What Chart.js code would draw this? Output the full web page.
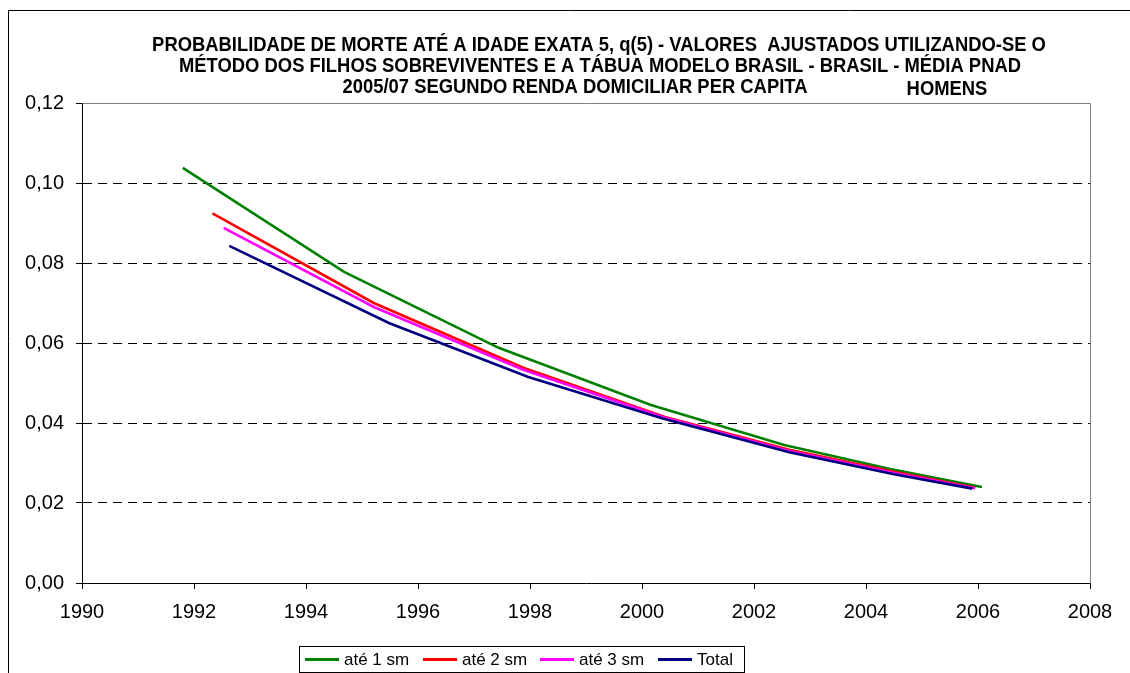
<!DOCTYPE html>
<html>
<head>
<meta charset="utf-8">
<script src="https://cdn.jsdelivr.net/npm/chart.js@4.4.1/dist/chart.umd.min.js"></script>
<style>
html, body { margin: 0; padding: 0; background: #fff; }
#wrap { width: 1130px; height: 673px; }
</style>
</head>
<body>
<div id="wrap"><canvas id="qChart"></canvas></div>
<script>
// title text
var titleLines = [
    "PROBABILIDADE DE MORTE ATÉ A IDADE EXATA 5, q(5) - VALORES  AJUSTADOS UTILIZANDO-SE O",
    "MÉTODO DOS FILHOS SOBREVIVENTES E A TÁBUA MODELO BRASIL - BRASIL - MÉDIA PNAD",
    "2005/07 SEGUNDO RENDA DOMICILIAR PER CAPITA"
];
var subTitle = "HOMENS";

// series names
var seriesNames = ["até 1 sm", "até 2 sm", "até 3 sm", "Total"];

// reference years and q(5) per series
var years1 = [1991.80, 1994.68, 1997.44, 2000.16, 2002.54, 2004.43, 2006.07];
var q1     = [0.1038, 0.0778, 0.0588, 0.0445, 0.0345, 0.0285, 0.0240];

var years2 = [1992.33, 1995.21, 1997.88, 2000.41, 2002.63, 2004.50, 2005.95];
var q2     = [0.0924, 0.0700, 0.0538, 0.0415, 0.0333, 0.0278, 0.0238];

var years3 = [1992.53, 1995.21, 1997.88, 2000.41, 2002.63, 2004.50, 2005.95];
var q3     = [0.0888, 0.0690, 0.0533, 0.0413, 0.0330, 0.0275, 0.0237];

var years4 = [1992.63, 1995.48, 1997.97, 2000.37, 2002.63, 2004.50, 2005.90];
var q4     = [0.0843, 0.0650, 0.0515, 0.0411, 0.0327, 0.0272, 0.0236];

// tick labels
var xTickLabels = ["1990", "1992", "1994", "1996", "1998", "2000", "2002", "2004", "2006", "2008"];
var yTickLabels = ["0,00", "0,02", "0,04", "0,06", "0,08", "0,10", "0,12"];

var colors = ["#008000", "#FF0000", "#FF00FF", "#000080"];

function toPoints(xs, ys) {
    var pts = [];
    for (var i = 0; i < xs.length; i++) pts.push({ x: xs[i], y: ys[i] });
    return pts;
}

var allYears = [years1, years2, years3, years4];
var allQ = [q1, q2, q3, q4];

var datasets = [];
for (var i = 0; i < seriesNames.length; i++) {
    datasets.push({
        label: seriesNames[i],
        data: toPoints(allYears[i], allQ[i]),
        borderColor: colors[i],
        backgroundColor: colors[i],
        borderWidth: 2.6,
        pointRadius: 0,
        tension: 0,
        order: seriesNames.length - 1 - i
    });
}

var FONT = "'Liberation Sans', Arial, sans-serif";

// title text in a slightly condensed bold face
function condensedText(ctx, text, cx, cy) {
    ctx.save();
    ctx.translate(cx, cy);
    ctx.scale(0.92, 1);
    ctx.fillText(text, 0, 0);
    ctx.restore();
}

// draws the outer frame, plot border, title and the boxed legend
var decorPlugin = {
    id: "decor",
    beforeDatasetsDraw: function (chart) {
        var ctx = chart.ctx, a = chart.chartArea;
        ctx.save();
        ctx.strokeStyle = "#808080";
        ctx.lineWidth = 1;
        ctx.beginPath();
        ctx.moveTo(Math.round(a.left) + 0.5, Math.round(a.top) + 0.5);
        ctx.lineTo(Math.round(a.right) + 0.5, Math.round(a.top) + 0.5);
        ctx.lineTo(Math.round(a.right) + 0.5, Math.round(a.bottom) + 0.5);
        ctx.stroke();
        ctx.restore();
    },
    afterDraw: function (chart) {
        var ctx = chart.ctx;
        ctx.save();

        // outer chart frame
        ctx.strokeStyle = "#000";
        ctx.lineWidth = 1;
        ctx.beginPath();
        ctx.moveTo(8.5, 673);
        ctx.lineTo(8.5, 10.5);
        ctx.lineTo(1130, 10.5);
        ctx.stroke();

        // title
        ctx.fillStyle = "#000";
        ctx.font = "bold 20px " + FONT;
        ctx.textAlign = "center";
        ctx.textBaseline = "middle";
        condensedText(ctx, titleLines[0], 599, 45);
        condensedText(ctx, titleLines[1], 600, 66);
        condensedText(ctx, titleLines[2], 575, 87);
        condensedText(ctx, subTitle, 947, 89);

        // legend
        ctx.strokeStyle = "#000";
        ctx.lineWidth = 1;
        ctx.strokeRect(299.5, 646.5, 445, 26);
        var lineX = [305, 423, 540, 658];
        ctx.font = "17px " + FONT;
        ctx.textAlign = "left";
        for (var i = 0; i < chart.data.datasets.length; i++) {
            var ds = chart.data.datasets[i];
            ctx.strokeStyle = ds.borderColor;
            ctx.lineWidth = 3;
            ctx.beginPath();
            ctx.moveTo(lineX[i], 659.5);
            ctx.lineTo(lineX[i] + 34, 659.5);
            ctx.stroke();
            ctx.fillStyle = "#000";
            ctx.fillText(ds.label, lineX[i] + 39, 660);
        }
        ctx.restore();
    }
};

var ctx = document.getElementById("qChart").getContext("2d");

var chart = new Chart(ctx, {
    type: "line",
    data: { datasets: datasets },
    plugins: [decorPlugin],
    options: {
        responsive: true,
        maintainAspectRatio: false,
        animation: false,
        layout: { padding: { left: 0, top: 103, right: 40, bottom: 0 } },
        plugins: {
            legend: { display: false },
            title: { display: false },
            tooltip: { enabled: false }
        },
        scales: {
            x: {
                type: "linear",
                min: 1990,
                max: 2008,
                afterFit: function (scale) { scale.height = 90; },
                afterBuildTicks: function (scale) {
                    scale.ticks = xTickLabels.map(function (t) { return { value: Number(t) }; });
                },
                ticks: {
                    color: "#000",
                    font: { family: FONT, size: 20 },
                    padding: 11,
                    maxRotation: 0,
                    callback: function (v, i) { return xTickLabels[i]; }
                },
                grid: {
                    drawOnChartArea: false,
                    drawTicks: true,
                    tickLength: 6,
                    tickColor: "#000"
                },
                border: { color: "#000", width: 1 }
            },
            y: {
                type: "linear",
                min: 0,
                max: 0.12,
                afterFit: function (scale) { scale.width = 82; },
                afterBuildTicks: function (scale) {
                    scale.ticks = yTickLabels.map(function (t) { return { value: Number(t.replace(",", ".")) }; });
                },
                ticks: {
                    color: "#000",
                    font: { family: FONT, size: 20 },
                    padding: 12,
                    callback: function (v, i) { return yTickLabels[i]; }
                },
                grid: {
                    lineWidth: 1,
                    tickLength: 6,
                    tickColor: "#000",
                    color: function (c) {
                        if (!c.tick) return "#000";
                        var v = c.tick.value;
                        return (v < 0.001 || v > 0.119) ? "rgba(0,0,0,0)" : "#000";
                    }
                },
                border: { color: "#000", width: 1, dash: [9, 6] }
            }
        }
    }
});
</script>
</body>
</html>
